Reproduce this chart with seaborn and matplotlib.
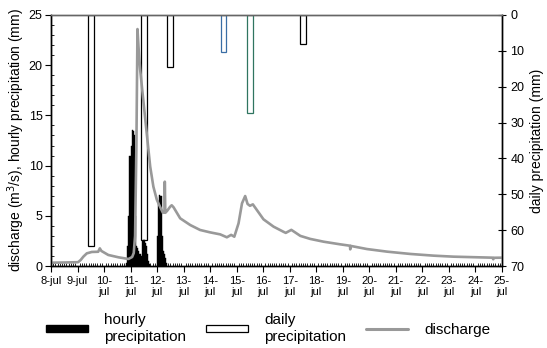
import matplotlib
matplotlib.use("Agg")
import matplotlib.pyplot as plt
from matplotlib.patches import Patch
from matplotlib.lines import Line2D
from matplotlib.ticker import MultipleLocator, FixedLocator
import numpy as np
import pandas as pd
import seaborn as sns

# ---------------- data ----------------
# discharge (m3/s); time as day of July (decimal)
discharge_time = [8.00, 8.50, 9.02, 9.12, 9.22, 9.35, 9.54, 9.78, 9.84, 9.90,
                  10.16, 10.54, 10.92, 11.06, 11.12, 11.17, 11.22, 11.26, 11.30, 11.36,
                  11.48, 11.61, 11.74, 11.86, 11.99, 12.11, 12.22, 12.28, 12.29, 12.31,
                  12.38, 12.49, 12.55, 12.62, 12.87, 13.25, 13.62, 14.00, 14.38, 14.63,
                  14.79, 14.91, 15.07, 15.20, 15.32, 15.41, 15.50, 15.61, 15.76, 16.01,
                  16.39, 16.77, 16.85, 17.06, 17.40, 17.77, 18.28, 18.90, 19.27, 19.28,
                  19.30, 19.91, 20.67, 21.55, 22.43, 23.18, 24.06, 24.65, 24.67, 24.70,
                  25.00]
discharge = [0.33, 0.35, 0.38, 0.60, 0.93, 1.26, 1.40, 1.42, 1.76, 1.50,
             1.10, 0.87, 0.70, 0.90, 1.30, 3.00, 12.0, 23.6, 21.8, 19.6,
             16.5, 13.2, 9.9, 7.9, 6.6, 5.9, 5.3, 5.4, 8.4, 5.3,
             5.5, 5.9, 6.05, 5.85, 4.75, 4.08, 3.59, 3.35, 3.15, 2.86,
             3.10, 2.92, 4.25, 6.24, 6.97, 6.18, 6.00, 6.14, 5.58, 4.65,
             3.92, 3.40, 3.30, 3.60, 3.00, 2.70, 2.42, 2.16, 2.02, 1.66,
             2.00, 1.69, 1.43, 1.20, 1.03, 0.93, 0.87, 0.83, 0.67, 0.82,
             0.83]

# hourly precipitation (mm): day of July and hour of day
hourly_day = [10, 10, 10, 10,
              11, 11, 11, 11, 11, 11, 11, 11, 11, 11, 11, 11, 11, 11, 11, 11, 11, 11,
              12, 12, 12, 12, 12, 12, 12, 12, 12]
hourly_hour = [20, 21, 22, 23,
               0, 1, 2, 3, 4, 5, 6, 7, 8, 9, 10, 11, 12, 13, 14, 15, 16, 17,
               0, 1, 2, 3, 4, 5, 6, 7, 8]
hourly_precip = [0.3, 2.0, 5.0, 11.0,
                 12.0, 13.5, 13.4, 13.0, 5.0, 2.0, 1.8, 1.5, 1.2, 1.0, 2.5, 2.6, 2.6, 2.3, 2.0, 1.2, 0.5, 0.2,
                 3.0, 6.5, 7.1, 7.0, 3.0, 1.5, 1.2, 0.8, 0.3]

# daily precipitation (mm)
daily_day = [9, 11, 12, 14, 15, 17]
daily_precip = [64.4, 62.7, 14.5, 10.4, 27.4, 8.1]

# x tick labels
tick_days = list(range(8, 26))
tick_labels = ["8-jul", "9-jul"] + [f"{d}-\njul" for d in range(10, 26)]

# ---------------- style ----------------
sns.set_theme(style="white")
plt.rcParams["font.family"] = ["Liberation Sans", "DejaVu Sans"]
plt.rcParams["axes.linewidth"] = 1.0
for k in ("text.color", "axes.labelcolor", "xtick.color", "ytick.color"):
    plt.rcParams[k] = "black"

fig = plt.figure(figsize=(5.47, 3.48), dpi=100)
ax = fig.add_axes([0.0932, 0.2356, 0.8245, 0.7213])
ax2 = ax.twinx()

df_q = pd.DataFrame({"time": discharge_time, "discharge": discharge})
df_h = pd.DataFrame({"time": np.array(hourly_day) + np.array(hourly_hour) / 24.0,
                     "precip": hourly_precip})
df_d = pd.DataFrame({"time": np.array(daily_day) + 0.5, "precip": daily_precip})

# daily precipitation, hanging from the top (secondary, inverted axis)
daily_edges = ["black", "black", "black", "#3a6ea5", "#2f7560", "black"]
ax2.bar(df_d["time"], df_d["precip"], width=0.22, color="white",
        edgecolor=daily_edges, linewidth=0.9)
ax2.set_ylim(70, 0)

# hourly precipitation
ax.bar(df_h["time"], df_h["precip"], width=1 / 24.0, align="edge",
       color="black", edgecolor="black", linewidth=0.3)
# discharge
sns.lineplot(data=df_q, x="time", y="discharge", ax=ax, color="#999999",
             linewidth=1.9, sort=False)

ax.set_zorder(ax2.get_zorder() + 1)
ax.patch.set_visible(False)

ax.set_xlim(8, 25)
ax.set_ylim(0, 25)
ax.xaxis.set_major_locator(FixedLocator(tick_days))
ax.set_xticklabels(tick_labels, fontsize=8, linespacing=1.1)
ax.xaxis.set_minor_locator(MultipleLocator(1 / 12.0))
ax.yaxis.set_major_locator(MultipleLocator(5))
ax.yaxis.set_minor_locator(MultipleLocator(1))
ax.tick_params(axis="x", which="major", direction="out", length=4, width=0.8,
               pad=3, labelsize=8, bottom=True)
ax.tick_params(axis="x", which="minor", direction="in", length=2.2, width=0.6, bottom=True)
ax.tick_params(axis="y", which="major", direction="out", length=4, width=0.8,
               pad=2, labelsize=9, left=True)
ax.tick_params(axis="y", which="minor", direction="in", length=2.2, width=0.6, left=True)

ax2.yaxis.set_major_locator(MultipleLocator(10))
ax2.tick_params(axis="y", direction="inout", length=6, width=0.8, labelsize=9,
                pad=3, right=True)
ax2.set_xlim(8, 25)

ax.set_xlabel("")
ax.set_ylabel("discharge (m$^3$/s), hourly precipitation (mm)", fontsize=10, labelpad=1)
ax2.set_ylabel("daily precipitation (mm)", fontsize=10, labelpad=4)

for a in (ax, ax2):
    for s in a.spines.values():
        s.set_color("black")
        s.set_linewidth(1.0)
ax.spines["top"].set_color("#666666")
ax2.spines["top"].set_color("#666666")

handles = [Patch(facecolor="black", edgecolor="black"),
           Patch(facecolor="white", edgecolor="black", linewidth=0.9),
           Line2D([0], [0], color="#999999", linewidth=2.2)]
labels = ["hourly\nprecipitation", "daily\nprecipitation", "discharge"]
fig.legend(handles, labels, loc="center", bbox_to_anchor=(0.49, 0.056), ncol=3,
           frameon=False, fontsize=11, handlelength=2.75, handleheight=0.4,
           handletextpad=1.05, columnspacing=1.3, labelspacing=0.1)

fig.savefig("out.png", dpi=100)
